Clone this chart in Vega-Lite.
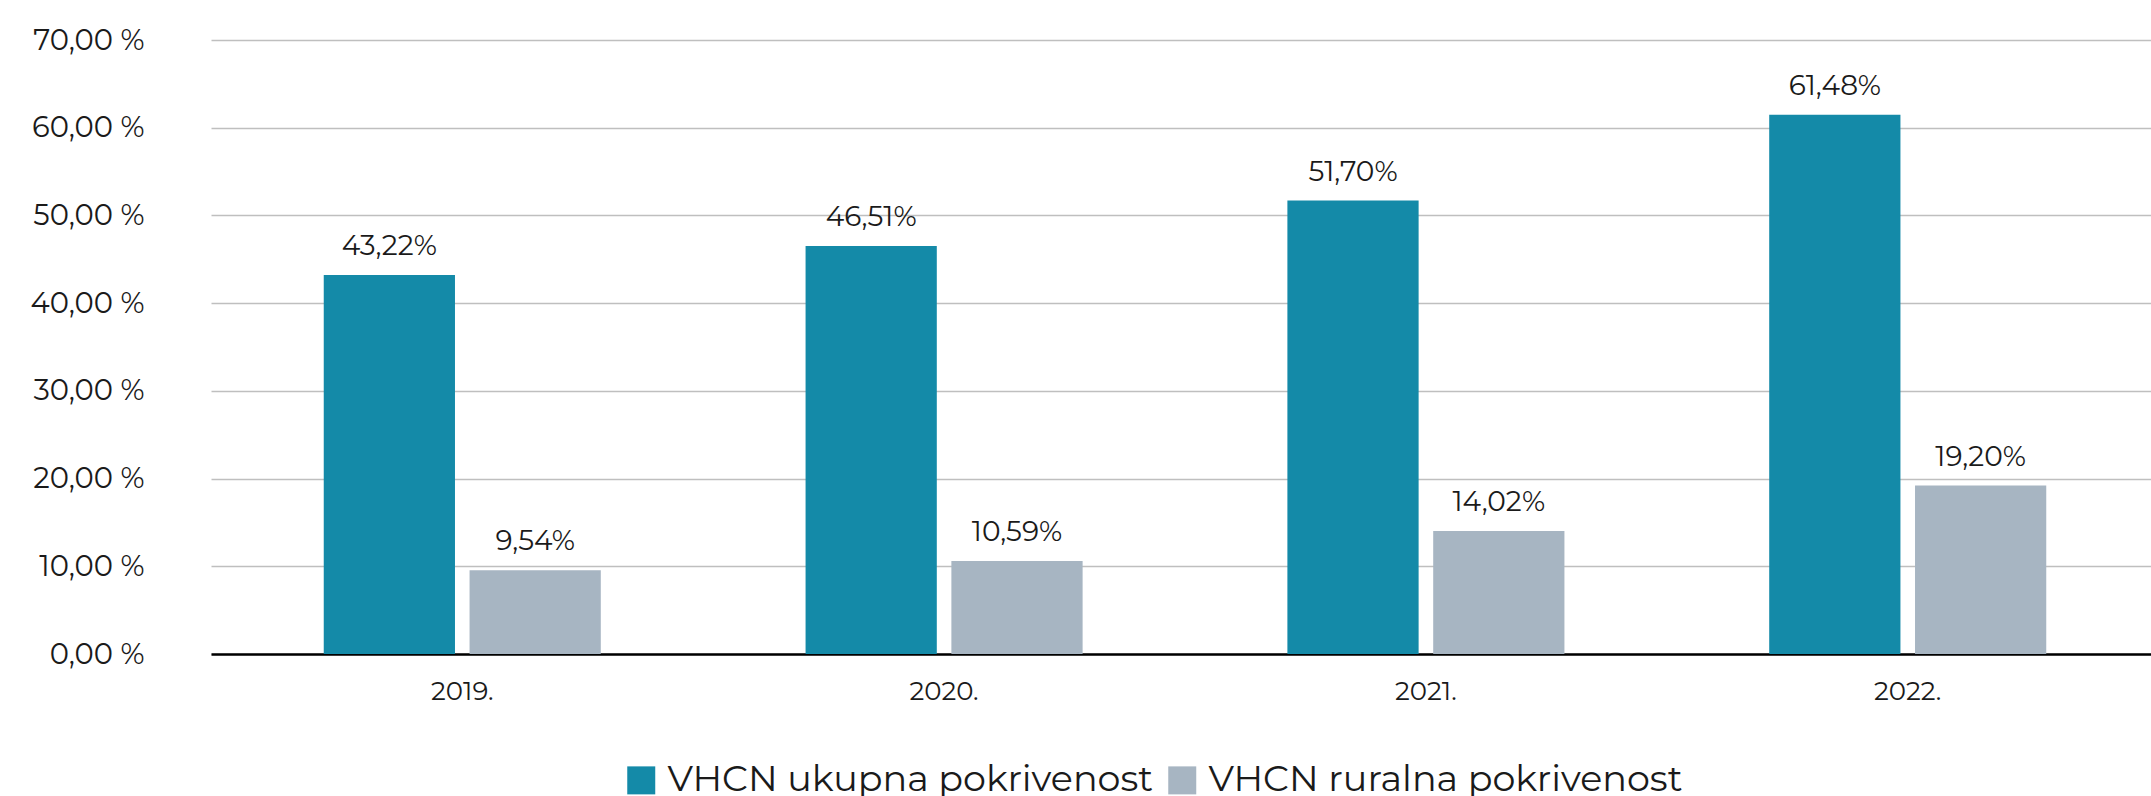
{
  "$schema": "https://vega.github.io/schema/vega-lite/v6.json",
  "width": 1940,
  "height": 614,
  "autosize": {"type": "none"},
  "padding": {"left": 211, "top": 40, "right": 0, "bottom": 142},
  "background": "white",
  "data": {"values": [
    {"year": "2019.", "series": "VHCN ukupna pokrivenost", "value": 43.22},
    {"year": "2019.", "series": "VHCN ruralna pokrivenost", "value": 9.54},
    {"year": "2020.", "series": "VHCN ukupna pokrivenost", "value": 46.51},
    {"year": "2020.", "series": "VHCN ruralna pokrivenost", "value": 10.59},
    {"year": "2021.", "series": "VHCN ukupna pokrivenost", "value": 51.70},
    {"year": "2021.", "series": "VHCN ruralna pokrivenost", "value": 14.02},
    {"year": "2022.", "series": "VHCN ukupna pokrivenost", "value": 61.48},
    {"year": "2022.", "series": "VHCN ruralna pokrivenost", "value": 19.20}
  ]},
  "encoding": {
    "x": {"field": "year", "type": "nominal", "sort": null,
      "scale": {"paddingInner": 0.425, "paddingOuter": 0.234, "range": [0, 1948]},
      "axis": {"title": null, "labelAngle": 0, "labelFontSize": 26, "labelColor": "#1a1a1a", "labelPadding": 24, "ticks": false, "domainColor": "#000000", "domainWidth": 2.5, "grid": false}},
    "xOffset": {"field": "series", "type": "nominal", "sort": ["VHCN ukupna pokrivenost", "VHCN ruralna pokrivenost"], "scale": {"paddingInner": 0.1, "paddingOuter": 0}},
    "y": {"field": "value", "type": "quantitative",
      "scale": {"domain": [0, 70], "nice": false},
      "axis": {"title": null, "values": [0, 10, 20, 30, 40, 50, 60, 70], "labelExpr": "format(datum.value, '.2f') + ' %'", "labelFontSize": 29, "labelColor": "#1a1a1a", "labelPadding": 67, "ticks": false, "domain": false, "gridColor": "#BFBFBF", "gridWidth": 1.5}}
  },
  "layer": [
    {
      "mark": {"type": "bar"},
      "encoding": {
        "color": {"field": "series", "type": "nominal", "sort": ["VHCN ukupna pokrivenost", "VHCN ruralna pokrivenost"],
          "scale": {"domain": ["VHCN ukupna pokrivenost", "VHCN ruralna pokrivenost"], "range": ["#148AA8", "#A7B5C2"]},
          "legend": {"title": null, "orient": "none", "legendX": 412, "legendY": 722, "direction": "horizontal", "columns": 2, "symbolType": "square", "symbolSize": 784, "symbolStrokeWidth": 0, "labelFontSize": 36.5, "labelColor": "#1a1a1a", "labelLimit": 1000, "labelOffset": 8, "columnPadding": 10}}
      }
    },
    {
      "mark": {"type": "text", "baseline": "bottom", "dy": -14, "fontSize": 28, "color": "#1a1a1a"},
      "encoding": {
        "text": {"field": "value", "type": "quantitative", "format": "$.2f"}
      }
    }
  ],
  "config": {
    "font": "Montserrat, Open Sans, sans-serif",
    "view": {"stroke": null},
    "locale": {"number": {"decimal": ",", "thousands": ".", "grouping": [3], "currency": ["", "%"]}}
  }
}
